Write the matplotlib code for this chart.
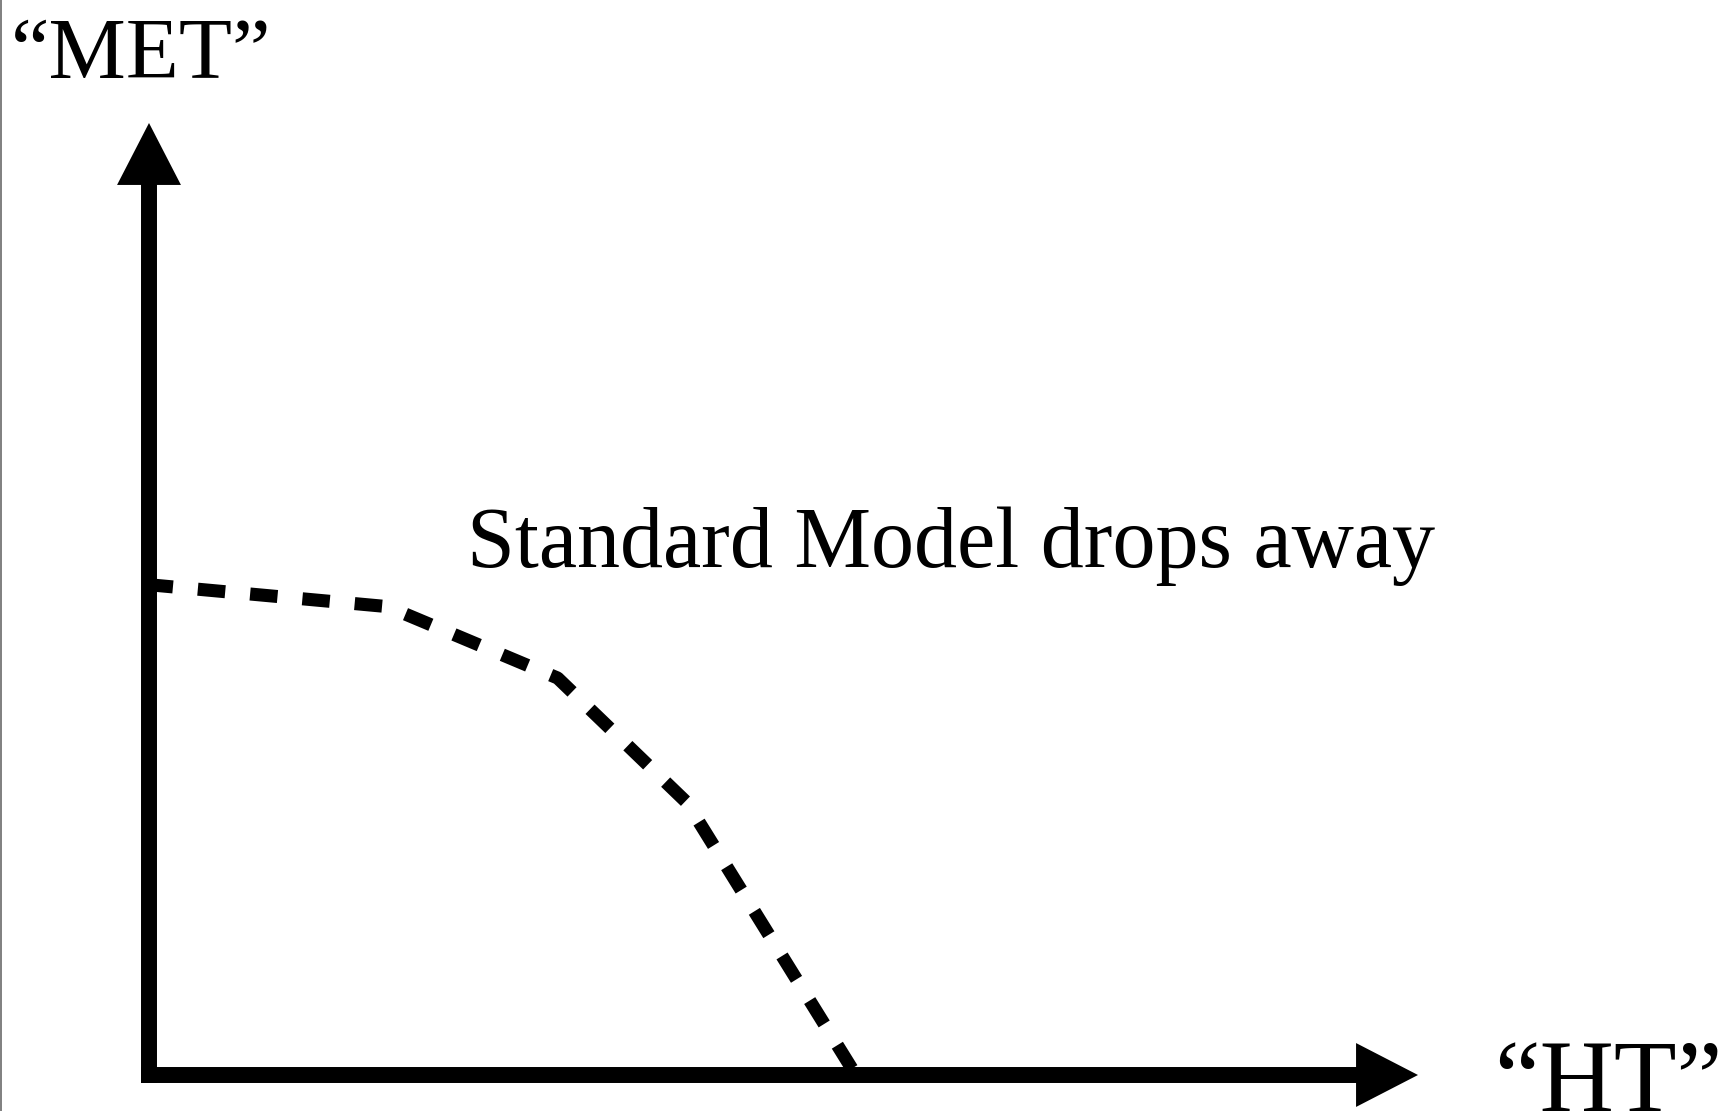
import matplotlib.pyplot as plt
from matplotlib.lines import Line2D

plt.rcParams['font.family'] = ['Liberation Serif', 'DejaVu Serif']
plt.rcParams['lines.scale_dashes'] = False

# Standard Model boundary (HT, MET), axes go 0..1
ht = [0.0, 0.188, 0.322, 0.424, 0.557]
met = [0.515, 0.492, 0.417, 0.286, 0.0]

x_label = '\u201cHT\u201d'
y_label = '\u201cMET\u201d'
note = 'Standard Model drops away'

W, H = 1721, 1111
fig = plt.figure(figsize=(W / 100, H / 100), dpi=100)
fig.patch.set_facecolor('white')

# origin of the sketch sits at pixel (149, 1075) from top-left
ax = fig.add_axes([149 / W, (H - 1075) / H, (1418 - 149) / W, (1075 - 123) / H])
ax.set_xlim(0, 1)
ax.set_ylim(0, 1)
ax.axis('off')

ax.plot(ht, met, color='black', lw=9.4, linestyle=(2.5, (19.8, 18)),
        solid_joinstyle='round', dash_joinstyle='round', dash_capstyle='butt',
        zorder=1, clip_on=False)

arrow = dict(width=11.5, headwidth=46, headlength=44.6, shrink=0,
             facecolor='black', edgecolor='none', lw=0)
# y axis
ax.annotate('', xy=(0, 1), xytext=(0, -8 / 952), xycoords='data',
            arrowprops=arrow, annotation_clip=False, zorder=3)
# x axis
ax.annotate('', xy=(1, 0), xytext=(-8 / 1269, 0), xycoords='data',
            arrowprops=arrow, annotation_clip=False, zorder=3)

fig.text(11 / W, 1 - 78 / H, y_label, fontsize=62.6, ha='left', va='baseline')
fig.text(1494 / W, 1 - 1113 / H, x_label, fontsize=74, ha='left', va='baseline')
fig.text(467 / W, 1 - 567 / H, note, fontsize=62, ha='left', va='baseline')

# thin grey border on the left edge
fig.add_artist(Line2D([0.0008, 0.0008], [0, 1], transform=fig.transFigure,
                      color='#7f7f7f', lw=1.4))

fig.savefig('out.png', dpi=100, facecolor='white')
